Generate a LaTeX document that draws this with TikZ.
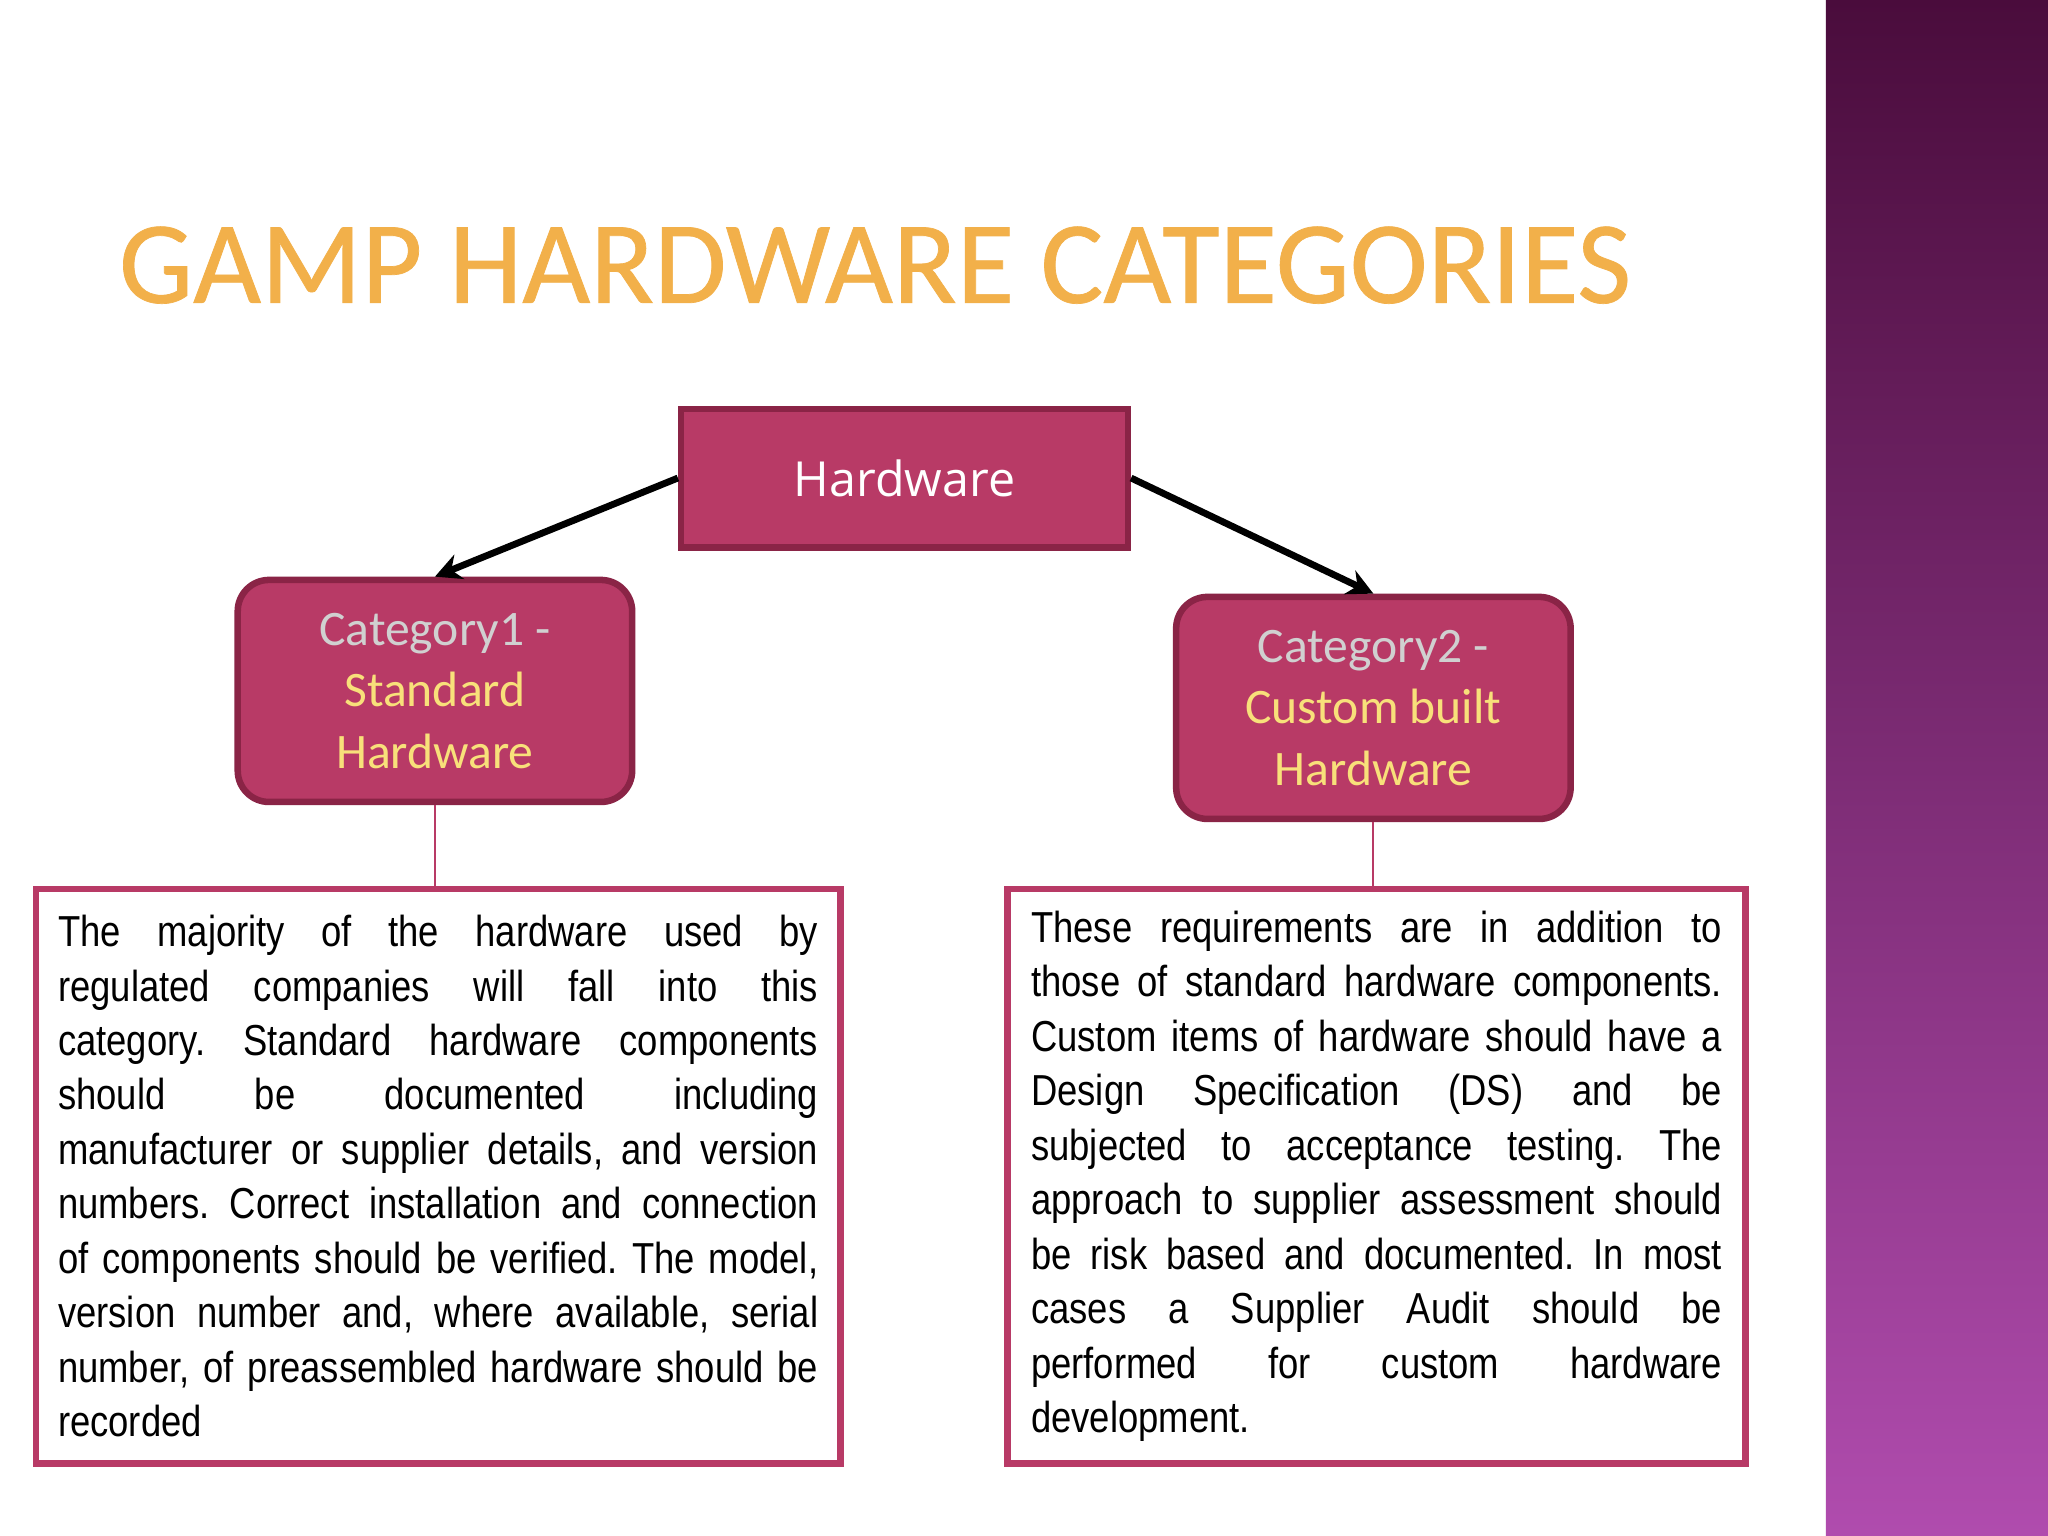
\documentclass[tikz,border=0pt]{standalone}
\usepackage{fontspec}
\setmainfont{Liberation Sans}
\newfontfamily\titlefont{Carlito}[FakeBold=0.6]
\newfontfamily\catfont{Carlito}
\newfontfamily\hwfont{Open Sans}
\newfontfamily\bodyfont{Liberation Sans}[FakeStretch=0.84]
\usetikzlibrary{arrows.meta}
\definecolor{boxfill}{HTML}{B83A66}
\definecolor{boxline}{HTML}{8A2446}
\definecolor{catgray}{HTML}{D0D0D0}
\definecolor{catyel}{HTML}{F8E07A}
\definecolor{titleor}{HTML}{F2B04A}
\definecolor{bandtop}{HTML}{4A0C3C}
\definecolor{bandbot}{HTML}{B04CAE}
\tikzset{
  hwbox/.style={draw=boxline,line width=2.5pt,fill=boxfill,text=white,minimum width=171pt,minimum height=53pt,inner sep=0pt},
  catbox/.style={draw=boxline,line width=2.5pt,fill=boxfill,rounded corners=12pt,minimum width=151pt,minimum height=85pt,inner sep=0pt,align=center,font=\catfont\fontsize{19}{23.5}\selectfont},
  txtbox/.style={draw=boxfill,line width=2.5pt,fill=white,anchor=north west,inner ysep=0pt,minimum height=220pt,font=\bodyfont\fontsize{16.6}{20.85}\selectfont\frenchspacing,align=justify},
  arr/.style={-{Stealth[length=10pt,width=10pt]},line width=2.6pt,black},
  conn/.style={draw=boxfill,line width=0.8pt}
}
\begin{document}
\begin{tikzpicture}[x=0.5pt,y=-0.5pt]
\useasboundingbox (0,0) rectangle (1568,1176);
\fill[white] (0,0) rectangle (1568,1176);
\shade[top color=bandtop,bottom color=bandbot] (1398,0) rectangle (1568,1176);
\node[anchor=west,text=titleor,font=\titlefont\fontsize{45}{45}\selectfont] (title) at (84,203) {GAMP HARDWARE CATEGORIES};
\node[hwbox,font=\hwfont\fontsize{18.5}{22}\selectfont] (hw) at (692.5,366) {Hardware};
\node[catbox] (c1) at (333,529) {\textcolor{catgray}{Category1 -}\\ \textcolor{catyel}{Standard}\\ \textcolor{catyel}{Hardware}};
\node[catbox] (c2) at (1051.5,542) {\textcolor{catgray}{Category2 -}\\ \textcolor{catyel}{Custom built}\\ \textcolor{catyel}{Hardware}};
\draw[arr] (hw.west) -- (c1.north);
\draw[arr] (hw.east) -- (c2.north);
\node[txtbox,text width=291pt,inner xsep=8.5pt] (t1) at (25,678) {The majority of the hardware used by\linebreak regulated companies will fall into this\linebreak category. Standard hardware components\linebreak should be documented including\linebreak manufacturer or supplier details, and version\linebreak numbers. Correct installation and connection\linebreak of components should be verified. The model,\linebreak version number and, where available, serial\linebreak number, of preassembled hardware should be\linebreak recorded};
\node[txtbox,text width=264.5pt,inner xsep=9pt] (t2) at (769,678) {These requirements are in addition to\linebreak those of standard hardware components.\linebreak Custom items of hardware should have a\linebreak Design Specification (DS) and be\linebreak subjected to acceptance testing. The\linebreak approach to supplier assessment should\linebreak be risk based and documented. In most\linebreak cases a Supplier Audit should be\linebreak performed for custom hardware\linebreak development.};
\draw[conn] (c1.south) -- (t1.north -| c1.south);
\draw[conn] (c2.south) -- (t2.north -| c2.south);
\end{tikzpicture}
\end{document}
